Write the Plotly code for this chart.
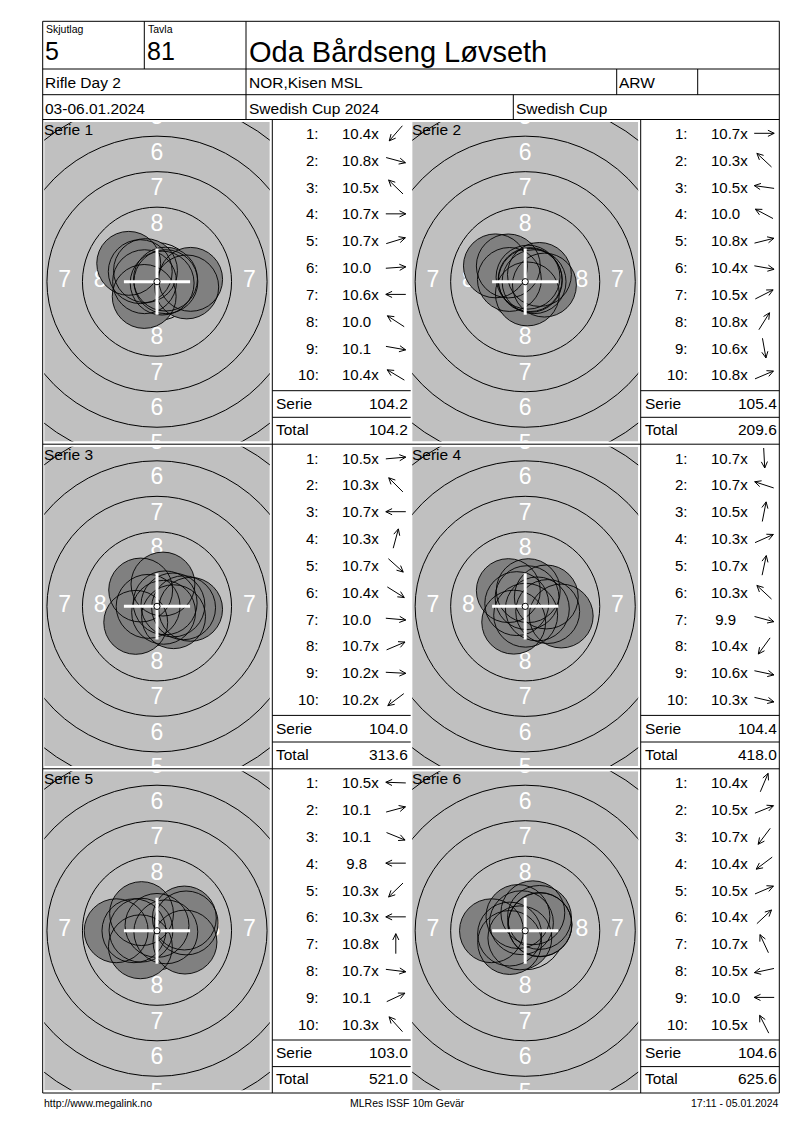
import math
import plotly.graph_objects as go

# ---------------- DATA ----------------
relay_label = "Skjutlag"
relay_value = "5"
lane_label = "Tavla"
lane_value = "81"
shooter_name = "Oda Bårdseng Løvseth"
row2_texts = ["Rifle Day 2", "NOR,Kisen MSL", "ARW", ""]
row3_texts = ["03-06.01.2024", "Swedish Cup 2024", "Swedish Cup"]
footer_texts = ["http://www.megalink.no", "MLRes ISSF 10m Gevär", "17:11 - 05.01.2024"]
serie_names = ["Serie 1", "Serie 2", "Serie 3", "Serie 4", "Serie 5", "Serie 6"]

# shot scores (decimal), inner-ten flag, direction of the shot from centre (deg, 0 = right, 90 = up)
serie1_scores = [10.4, 10.8, 10.5, 10.7, 10.7, 10.0, 10.6, 10.0, 10.1, 10.4]
serie1_inner = [1, 1, 1, 1, 1, 0, 1, 0, 0, 1]
serie1_dirs = [229, -15, 136, 0, 17, 4, 180, 147, -10, 149]

serie2_scores = [10.7, 10.3, 10.5, 10.0, 10.8, 10.4, 10.5, 10.8, 10.6, 10.8]
serie2_inner = [1, 1, 1, 0, 1, 1, 1, 1, 1, 1]
serie2_dirs = [0, 137, 172, 152, 14, -10, 27, 58, -80, 23]

serie3_scores = [10.5, 10.3, 10.7, 10.3, 10.7, 10.4, 10.0, 10.7, 10.2, 10.2]
serie3_inner = [1, 1, 1, 1, 1, 1, 0, 1, 1, 1]
serie3_dirs = [5, 135, 180, 75, -42, -32, -5, 23, -3, 217]

serie4_scores = [10.7, 10.7, 10.5, 10.3, 10.7, 10.3, 9.9, 10.4, 10.6, 10.3]
serie4_inner = [1, 1, 1, 1, 1, 1, 0, 1, 1, 1]
serie4_dirs = [-87, 162, 79, 24, 78, 137, -15, 234, -12, -13]

serie5_scores = [10.5, 10.1, 10.1, 9.8, 10.3, 10.3, 10.8, 10.7, 10.1, 10.3]
serie5_inner = [1, 0, 0, 0, 1, 1, 1, 1, 0, 1]
serie5_dirs = [178, 15, -22, 180, 224, 180, 90, -7, 25, 132]

serie6_scores = [10.4, 10.5, 10.7, 10.4, 10.5, 10.4, 10.7, 10.5, 10.0, 10.5]
serie6_inner = [1, 1, 1, 1, 1, 1, 1, 1, 0, 1]
serie6_dirs = [67, 22, 233, 217, 23, 43, 115, 192, 180, 117]

serie_sums = [104.2, 105.4, 104.0, 104.4, 103.0, 104.6]
running_totals = [104.2, 209.6, 313.6, 418.0, 521.0, 625.6]
ring_numbers = [1, 2, 3, 4, 5, 6, 7, 8]

all_scores = [serie1_scores, serie2_scores, serie3_scores, serie4_scores, serie5_scores, serie6_scores]
all_inner = [serie1_inner, serie2_inner, serie3_inner, serie4_inner, serie5_inner, serie6_inner]
all_dirs = [serie1_dirs, serie2_dirs, serie3_dirs, serie4_dirs, serie5_dirs, serie6_dirs]

# ---------------- GEOMETRY (page pixels) ----------------
OFF = 8.0            # body margin of the html page
FW, FH = 784, 1114   # figure size
FONT = "Liberation Sans, Arial, sans-serif"
BLACK = "#000000"
GRAY_BG = "#C0C0C0"
SHOT_FILL = "#808080"
PX_PER_MM = 14.2
PELLET_R = 2.25      # mm
RING10_R = 0.25      # mm
RING_STEP = 2.5      # mm

X_L, X_R = 42.7, 779.3
Y_T, Y_B = 21.3, 1093.0
H1, H2, H3 = 69.0, 94.7, 119.5
COLS = [(42.7, 272.3, 410.7), (410.7, 640.7, 779.3)]
ROWS = [119.5, 444.2, 768.8, 1093.0]


def px2paper_x(px):
    return (px - OFF) / FW


def px2paper_y(py):
    return 1 - (py - OFF) / FH


fig = go.Figure()
shapes = []
annotations = []


def line(x0, y0, x1, y1, color=BLACK, width=1, xref="x", yref="y", layer="above"):
    shapes.append(dict(type="line", x0=x0, y0=y0, x1=x1, y1=y1, xref=xref, yref=yref,
                       line=dict(color=color, width=width), layer=layer))


def text(x, y, s, size, xanchor="left", color=BLACK, family=FONT):
    annotations.append(dict(x=x, y=y, xref="x", yref="y", text=s, showarrow=False,
                            xanchor=xanchor, yanchor="middle",
                            font=dict(family=family, size=size, color=color),
                            borderpad=0))


# ---------- form lines ----------
line(X_L, Y_T, X_R, Y_T)
line(X_L, Y_B, X_R, Y_B)
line(X_L, Y_T, X_L, Y_B)
line(X_R, Y_T, X_R, Y_B)
for yy in (H1, H2, H3, ROWS[1], ROWS[2]):
    line(X_L, yy, X_R, yy)
line(144.3, Y_T, 144.3, H1)
line(246.0, Y_T, 246.0, H3)
line(616.7, H1, 616.7, H2)
line(697.7, H1, 697.7, H2)
line(513.3, H2, 513.3, H3)
for (tl, tb, tr) in COLS:
    line(tb, H3, tb, Y_B)
for (tl, tb, tr) in COLS:
    for r in range(3):
        T = ROWS[r]
        line(tb, T + 271.2, tr, T + 271.2)
        line(tb, T + 297.8, tr, T + 297.8)

# ---------- header texts ----------
text(44.5, 29.0, relay_label, 10.5)
text(43.5, 50.5, relay_value, 25)
text(146.5, 29.0, lane_label, 10.5)
text(146.0, 50.5, lane_value, 25)
text(247.5, 51.5, shooter_name, 29)
text(43.5, 82.0, row2_texts[0], 15.5)
text(248.0, 82.0, row2_texts[1], 15.5)
text(618.0, 82.0, row2_texts[2], 15.5)
text(43.5, 108.0, row3_texts[0], 15.5)
text(248.0, 108.0, row3_texts[1], 15.5)
text(515.0, 108.0, row3_texts[2], 15.5)

# footer
text(42.5, 1102.5, footer_texts[0], 10.5)
text(407.0, 1102.5, footer_texts[1], 10.5, xanchor="center")
text(779.5, 1102.5, footer_texts[2], 10.5, xanchor="right")

# ---------- panels ----------
arrow_x, arrow_y = [], []
ARROW_LEN = 20.0
HEAD_LEN = 7.0
HEAD_ANG = math.radians(26)

layout_axes = {}
for k in range(6):
    r, c = divmod(k, 2)
    tl, tb, tr = COLS[c]
    T, B = ROWS[r], ROWS[r + 1]
    scores, inner, dirs = all_scores[k], all_inner[k], all_dirs[k]

    # --- table ---
    for i, (s, xf, ang) in enumerate(zip(scores, inner, dirs)):
        yy = T + 13.8 + i * 26.85
        text(tb + 48.0, yy, f"{i + 1}:", 15, xanchor="right")
        lab = f"{s:.1f}" + ("x" if xf else "")
        if s < 10:
            lab = "\u00a0" + lab
        text(tb + 68.8, yy, lab, 15)
        # arrow
        cx, cy = tb + 123.5, yy
        a = math.radians(ang)
        ux, uy = math.cos(a), -math.sin(a)
        x0, y0 = cx - ux * ARROW_LEN / 2, cy - uy * ARROW_LEN / 2
        x1, y1 = cx + ux * ARROW_LEN / 2, cy + uy * ARROW_LEN / 2
        arrow_x += [x0, x1, None]
        arrow_y += [y0, y1, None]
        for sgn in (1, -1):
            b = math.atan2(-uy, -ux) + sgn * HEAD_ANG
            arrow_x += [x1, x1 + HEAD_LEN * math.cos(b), None]
            arrow_y += [y1, y1 + HEAD_LEN * math.sin(b), None]
    text(tb + 3.0, T + 284.0, "Serie", 15.5)
    text(tb + 137.0, T + 284.0, f"{serie_sums[k]:.1f}", 15.5, xanchor="right")
    text(tb + 3.0, T + 310.0, "Total", 15.5)
    text(tb + 137.0, T + 310.0, f"{running_totals[k]:.1f}", 15.5, xanchor="right")

    # --- target subplot ---
    gx0, gx1 = tl + 1.5, tb - 2.5
    gy0, gy1 = T + 2.5, B - 2.8
    hw = (gx1 - gx0) / 2 / PX_PER_MM
    hh = (gy1 - gy0) / 2 / PX_PER_MM
    ax = k + 2
    layout_axes[f"xaxis{ax}"] = dict(domain=[px2paper_x(gx0), px2paper_x(gx1)], range=[-hw, hw],
                                     visible=False, anchor=f"y{ax}", fixedrange=True)
    layout_axes[f"yaxis{ax}"] = dict(domain=[px2paper_y(gy1), px2paper_y(gy0)], range=[-hh, hh],
                                     visible=False, anchor=f"x{ax}", fixedrange=True)
    xr, yr = f"x{ax}", f"y{ax}"
    shapes.append(dict(type="rect", xref=xr, yref=yr, x0=-hw, x1=hw, y0=-hh, y1=hh,
                       fillcolor=GRAY_BG, line=dict(width=0), layer="below"))
    for n in range(1, 10):
        R = RING10_R + RING_STEP * (10 - n)
        shapes.append(dict(type="circle", xref=xr, yref=yr, x0=-R, x1=R, y0=-R, y1=R,
                           line=dict(color=BLACK, width=1), fillcolor="rgba(0,0,0,0)", layer="below"))
    lx, ly, lt = [], [], []
    for n in ring_numbers:
        rr = RING_STEP * (10 - n) - 1.0
        for (px_, py_) in ((0, rr), (0, -rr), (rr, 0), (-rr, 0)):
            # keep only the numbers that are (at least partly) inside the visible target area
            if abs(px_) - 0.5 < hw and abs(py_) - 0.62 < hh:
                lx.append(px_)
                ly.append(py_)
                lt.append(str(n))
    fig.add_trace(go.Scatter(x=lx, y=ly, text=lt, mode="text", xaxis=xr, yaxis=yr,
                             textfont=dict(family=FONT, size=23, color="#FFFFFF"),
                             textposition="middle center", cliponaxis=True,
                             hoverinfo="skip", showlegend=False))
    # shots: filled discs first, then every outline on top
    pos = []
    for s, ang in zip(scores, dirs):
        d = (10.95 - s) * RING_STEP
        a = math.radians(ang)
        pos.append((d * math.cos(a), d * math.sin(a)))
    for (sx, sy) in pos:
        shapes.append(dict(type="circle", xref=xr, yref=yr, x0=sx - PELLET_R, x1=sx + PELLET_R,
                           y0=sy - PELLET_R, y1=sy + PELLET_R, fillcolor=SHOT_FILL,
                           line=dict(width=0), layer="above"))
    for (sx, sy) in pos:
        shapes.append(dict(type="circle", xref=xr, yref=yr, x0=sx - PELLET_R, x1=sx + PELLET_R,
                           y0=sy - PELLET_R, y1=sy + PELLET_R, fillcolor="rgba(0,0,0,0)",
                           line=dict(width=0.9, color=BLACK), layer="above"))
    # crosshair
    CH = 2.33
    shapes.append(dict(type="line", xref=xr, yref=yr, x0=-CH, x1=CH, y0=0, y1=0,
                       line=dict(color="#FFFFFF", width=3), layer="above"))
    shapes.append(dict(type="line", xref=xr, yref=yr, x0=0, x1=0, y0=-CH, y1=CH,
                       line=dict(color="#FFFFFF", width=3), layer="above"))
    shapes.append(dict(type="circle", xref=xr, yref=yr, x0=-0.22, x1=0.22, y0=-0.22, y1=0.22,
                       fillcolor="#FFFFFF", line=dict(color=BLACK, width=1), layer="above"))
    # serie label
    text(tl + 0.5, T + 9.8, serie_names[k], 15.5)

fig.add_trace(go.Scatter(x=arrow_x, y=arrow_y, mode="lines", line=dict(color=BLACK, width=1),
                         hoverinfo="skip", showlegend=False, xaxis="x", yaxis="y"))

fig.update_layout(
    width=FW, height=FH, autosize=False,
    margin=dict(l=0, r=0, t=0, b=0, pad=0),
    paper_bgcolor="#FFFFFF", plot_bgcolor="rgba(0,0,0,0)",
    xaxis=dict(domain=[0, 1], range=[OFF, OFF + FW], visible=False, fixedrange=True),
    yaxis=dict(domain=[0, 1], range=[OFF + FH, OFF], visible=False, fixedrange=True),
    shapes=shapes, annotations=annotations, showlegend=False,
    **layout_axes,
)

fig.write_html("out.html", config={"displayModeBar": False, "staticPlot": True})
